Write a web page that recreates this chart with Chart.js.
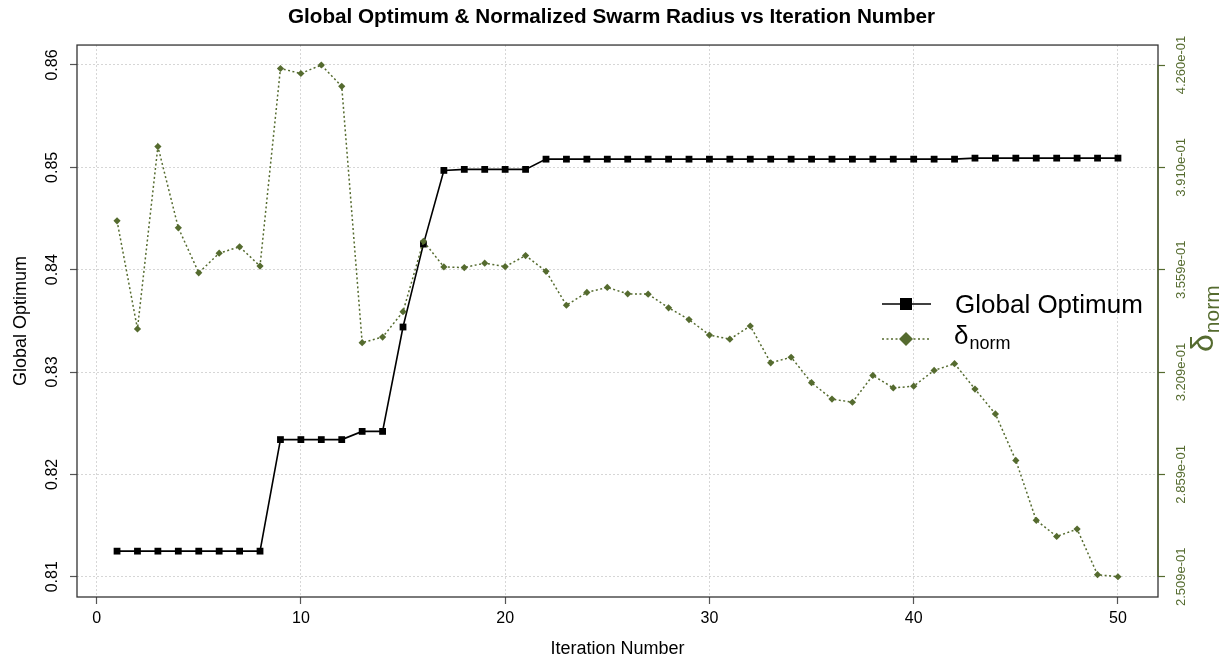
<!DOCTYPE html>
<html><head><meta charset="utf-8">
<script src="https://cdn.jsdelivr.net/npm/chart.js@4.4.1/dist/chart.umd.min.js"></script>
<style>html,body{margin:0;padding:0;background:#fff}#wrap{width:1223px;height:664px;position:relative}</style>
</head><body><div id="wrap"><canvas id="c" width="1223" height="664"></canvas></div>
<script>
const iterations = [1,2,3,4,5,6,7,8,9,10,11,12,13,14,15,16,17,18,19,20,21,22,23,24,25,26,27,28,29,30,31,32,33,34,35,36,37,38,39,40,41,42,43,44,45,46,47,48,49,50];
const globalOptimum = [0.8125,0.8125,0.8125,0.8125,0.8125,0.8125,0.8125,0.8125,
  0.8234,0.8234,0.8234,0.8234,0.8242,0.8242,0.8344,0.8425,0.8497,0.8498,0.8498,0.8498,0.8498,
  0.8508,0.8508,0.8508,0.8508,0.8508,0.8508,0.8508,0.8508,0.8508,0.8508,0.8508,0.8508,0.8508,0.8508,0.8508,0.8508,0.8508,0.8508,0.8508,0.8508,0.8508,
  0.8509,0.8509,0.8509,0.8509,0.8509,0.8509,0.8509,0.8509];
const deltaNorm = [0.3727,0.3357,0.3981,0.3703,0.3549,0.3616,0.3638,0.3572,0.4248,0.4231,
  0.4260,0.4187,0.3310,0.3329,0.3416,0.3657,0.3569,0.3567,0.3582,0.3570,
  0.3608,0.3554,0.3438,0.3482,0.3499,0.3477,0.3476,0.3429,0.3389,0.3336,
  0.3322,0.3367,0.3241,0.3260,0.3173,0.3117,0.3106,0.3198,0.3155,0.3161,
  0.3215,0.3238,0.3151,0.3066,0.2907,0.2702,0.2647,0.2672,0.2516,0.2509];
const xTicks = [0,10,20,30,40,50];
const leftTicks = [0.81,0.82,0.83,0.84,0.85,0.86];
const rightTicks = [0.2509,0.28592,0.32094,0.35596,0.39098,0.4260];
const rightTickLabels = ['2.509e-01','2.859e-01','3.209e-01','3.559e-01','3.910e-01','4.260e-01'];

const GREEN = '#556B2F';
const FONT = "'Liberation Sans', Arial, Helvetica, sans-serif";
const GRID = '#d6d6d6';

const bgPlugin = {
  id: 'bg',
  beforeDraw(chart) {
    const c = chart.ctx; c.save(); c.fillStyle = '#fff'; c.fillRect(0, 0, chart.width, chart.height); c.restore();
  }
};
const boxPlugin = {
  id: 'box',
  beforeDatasetsDraw(chart) {
    const {ctx, chartArea: a} = chart;
    const y2 = chart.scales.y2;
    ctx.save();
    ctx.setLineDash([]);
    ctx.strokeStyle = '#333'; ctx.lineWidth = 1.3;
    ctx.strokeRect(a.left, a.top, a.right - a.left, a.bottom - a.top);
    ctx.strokeStyle = GREEN; ctx.lineWidth = 1.3;
    ctx.beginPath();
    ctx.moveTo(a.right, y2.getPixelForValue(rightTicks[0]));
    ctx.lineTo(a.right, y2.getPixelForValue(rightTicks[rightTicks.length - 1]));
    ctx.stroke();
    ctx.restore();
  }
};
function drawSub(ctx, x, y, main, sub, mainSize, subSize, drop, color) {
  ctx.fillStyle = color;
  ctx.font = mainSize + 'px ' + FONT;
  ctx.fillText(main, x, y);
  const w = ctx.measureText(main).width;
  ctx.font = subSize + 'px ' + FONT;
  ctx.fillText(sub, x + w + 1, y + drop);
  return w + 1 + ctx.measureText(sub).width;
}
const legendPlugin = {
  id: 'customLegend',
  afterDraw(chart) {
    const ctx = chart.ctx;
    ctx.save();
    ctx.textBaseline = 'alphabetic'; ctx.textAlign = 'left';
    const r1 = 304, r2 = 339, lx0 = 882, lx1 = 931, lxm = 906, tx = 955;
    ctx.strokeStyle = '#000'; ctx.lineWidth = 1.6; ctx.setLineDash([]);
    ctx.beginPath(); ctx.moveTo(lx0, r1); ctx.lineTo(lx1, r1); ctx.stroke();
    ctx.fillStyle = '#000'; ctx.fillRect(lxm - 6, r1 - 6, 12, 12);
    ctx.fillStyle = '#000'; ctx.font = '26px ' + FONT;
    ctx.fillText('Global Optimum', tx, r1 + 9);
    ctx.strokeStyle = GREEN; ctx.lineWidth = 1.5; ctx.setLineDash([2, 2.5]);
    ctx.beginPath(); ctx.moveTo(lx0, r2); ctx.lineTo(lx1, r2); ctx.stroke();
    ctx.setLineDash([]);
    ctx.fillStyle = GREEN;
    ctx.beginPath(); ctx.moveTo(lxm - 7, r2); ctx.lineTo(lxm, r2 - 7); ctx.lineTo(lxm + 7, r2); ctx.lineTo(lxm, r2 + 7); ctx.closePath(); ctx.fill();
    drawSub(ctx, tx - 1, r2 + 5, '\u03B4', 'norm', 26, 18, 5, '#000');
    ctx.save();
    ctx.translate(1213, 352);
    ctx.rotate(-Math.PI / 2);
    drawSub(ctx, 0, 0, '\u03B4', 'norm', 32, 21, 6, GREEN);
    ctx.restore();
    ctx.restore();
  }
};

const gridCommon = {
  color: GRID, lineWidth: 1, borderDash: [2, 2],
  drawTicks: true, tickLength: 7, tickColor: '#555', tickBorderDash: [], tickWidth: 1.2
};

new Chart(document.getElementById('c'), {
  type: 'line',
  data: {
    datasets: [
      {
        label: 'Global Optimum',
        data: iterations.map((x, i) => ({x: x, y: globalOptimum[i]})),
        yAxisID: 'y',
        borderColor: '#000', backgroundColor: '#000',
        borderWidth: 1.6,
        pointStyle: 'rect', pointRadius: 4.8, pointBorderWidth: 0,
        pointBackgroundColor: '#000',
        tension: 0, fill: false, order: 2
      },
      {
        label: '\u03B4norm',
        data: iterations.map((x, i) => ({x: x, y: deltaNorm[i]})),
        yAxisID: 'y2',
        borderColor: GREEN, backgroundColor: GREEN,
        borderWidth: 1.5, borderDash: [2, 2.5],
        pointStyle: 'rectRot', pointRadius: 3.6, pointBorderWidth: 0,
        pointBackgroundColor: GREEN,
        tension: 0, fill: false, order: 1
      }
    ]
  },
  options: {
    responsive: false, animation: false, devicePixelRatio: 1,
    layout: {padding: {top: 0, left: 0, right: 0, bottom: 0}},
    plugins: {
      legend: {display: false},
      tooltip: {enabled: false},
      title: {
        display: true,
        text: 'Global Optimum & Normalized Swarm Radius vs Iteration Number',
        font: {family: FONT, size: 20.7, weight: 'bold'}, color: '#000',
        padding: {top: 4.6, bottom: 15.6}
      }
    },
    scales: {
      x: {
        type: 'linear', position: 'bottom', min: -0.96, max: 51.96,
        afterBuildTicks: s => { s.ticks = xTicks.map(v => ({value: v})); },
        afterFit: s => { s.height = 67; },
        ticks: {font: {family: FONT, size: 16}, color: '#000', padding: 5, maxRotation: 0, minRotation: 0, autoSkip: false,
          callback: v => String(v)},
        grid: gridCommon,
        border: {display: false, dash: [2, 2]},
        title: {display: true, text: 'Iteration Number', font: {family: FONT, size: 18}, color: '#000', padding: {top: 4, bottom: 4}}
      },
      y: {
        type: 'linear', position: 'left', min: 0.80802, max: 0.86195,
        afterBuildTicks: s => { s.ticks = leftTicks.map(v => ({value: v})); },
        afterFit: s => { s.width = 77; },
        ticks: {font: {family: FONT, size: 16}, color: '#000', minRotation: 90, maxRotation: 90, crossAlign: 'center', padding: 2, autoSkip: false,
          callback: v => v.toFixed(2)},
        grid: gridCommon,
        border: {display: false, dash: [2, 2]},
        title: {display: true, text: 'Global Optimum', font: {family: FONT, size: 18}, color: '#000', padding: {top: 10, bottom: 0}}
      },
      y2: {
        type: 'linear', position: 'right', min: 0.24397, max: 0.43283,
        afterBuildTicks: s => { s.ticks = rightTicks.map(v => ({value: v})); },
        afterFit: s => { s.width = 65; },
        ticks: {font: {family: FONT, size: 13}, color: GREEN, minRotation: 90, maxRotation: 90, crossAlign: 'center', padding: -13, autoSkip: false,
          callback: (v, i) => rightTickLabels[i]},
        grid: {drawOnChartArea: false, drawTicks: true, tickLength: 7, tickColor: GREEN, color: GREEN, tickWidth: 1.2},
        border: {display: false}
      }
    }
  },
  plugins: [bgPlugin, boxPlugin, legendPlugin]
});
</script></body></html>
